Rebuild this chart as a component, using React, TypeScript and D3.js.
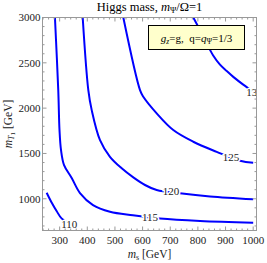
import * as d3 from 'd3';

// chart size
const W = 267;
const H = 263;
const margin = { left: 42.5, right: 10.5, top: 17.5, bottom: 32.5 };

// axes
const MS_DOMAIN = [238, 1012];
const MT_DOMAIN = [650, 3000];
const MS_TICKS = [300, 400, 500, 600, 700, 800, 900, 1000];
const MT_TICKS = [1000, 1500, 2000, 2500, 3000];
const MS_MINOR = d3.range(240, 1001, 20).filter(v => v % 100 !== 0);
const MT_MINOR = d3.range(700, 3001, 100).filter(v => v % 500 !== 0);

// contour lines (m_s, m_T1)
const MS_110 = [253, 272, 289, 307, 345];
const MT_110 = [1067, 953, 865, 784, 710];

const MS_115 = [283, 295, 299.5, 305, 316, 343.6, 373.6, 420.7, 482, 565, 663, 808, 1000];
const MT_115 = [3000, 2199, 1758, 1537, 1372, 1229, 1063, 931, 857, 818, 783, 756, 736];

const MS_120 = [383.4, 403.7, 416, 446, 482, 524.5, 566.4, 608.7, 651, 735, 844, 1000];
const MT_120 = [3000, 2199, 1978, 1647, 1463, 1336, 1236, 1152, 1096, 1060, 1025, 994];

const MS_125 = [530.3, 590.7, 602.6, 651, 711, 783.4, 868, 952.4, 1000];
const MT_125 = [3000, 2199, 2125, 1942, 1758, 1629, 1518, 1419, 1397];

const MS_130 = [783.4, 807.7, 832, 854.7, 880, 904, 928, 964, 1000];
const MT_130 = [3000, 2860, 2713, 2584, 2480, 2410, 2345, 2260, 2185];

// contour labels
const LEVELS = [110, 115, 120, 125, 130];
const LABEL_MS = [335, 627, 703, 920, 1005];
const LABEL_MT = [720, 797, 1080, 1455, 2180];

const contours = [
	{ ms: MS_110, mt: MT_110 },
	{ ms: MS_115, mt: MT_115 },
	{ ms: MS_120, mt: MT_120 },
	{ ms: MS_125, mt: MT_125 },
	{ ms: MS_130, mt: MT_130 },
];

const serif = "'Liberation Serif', 'DejaVu Serif', serif";

export default function App() {
	const x = d3.scaleLinear().domain(MS_DOMAIN).range([margin.left, W - margin.right]);
	const y = d3.scaleLinear().domain(MT_DOMAIN).range([H - margin.bottom, margin.top]);

	const x0 = margin.left, x1 = W - margin.right;
	const y0 = margin.top, y1 = H - margin.bottom;

	const line = d3.line<[number, number]>()
		.x(d => x(d[0]))
		.y(d => y(d[1]))
		.curve(d3.curveCatmullRom.alpha(0.5));

	const tickColor = "#999";

	return (
		<svg width={W} height={H} style={{ position: "absolute", left: 0, top: 0, background: "#fff" }}
			fontFamily={serif}>
			<defs>
				<clipPath id="plot-clip">
					<rect x={x0} y={y0} width={x1 - x0} height={y1 - y0} />
				</clipPath>
			</defs>

			{/* title */}
			<text x={(x0 + x1) / 2} y={10.5} textAnchor="middle" fontSize={12.5} fill="#000">
				Higgs mass, <tspan fontStyle="italic">m</tspan>
				<tspan fontSize={8.5} dy={2}>Ψ</tspan>
				<tspan dy={-2}>/Ω=1</tspan>
			</text>

			{/* contours */}
			<g clipPath="url(#plot-clip)">
				{contours.map((c, i) => (
					<path key={i}
						d={line(c.ms.map((v, j) => [v, c.mt[j]] as [number, number])) || ""}
						fill="none" stroke="#0000ff" strokeWidth={2} />
				))}
				{LEVELS.map((lv, i) => (
					<text key={lv} x={x(LABEL_MS[i])} y={y(LABEL_MT[i])} dy="0.35em"
						textAnchor="middle" fontSize={11} fill="#222"
						stroke="#fff" strokeWidth={3} paintOrder="stroke">
						{lv}
					</text>
				))}
			</g>

			{/* frame */}
			<rect x={x0} y={y0} width={x1 - x0} height={y1 - y0} fill="none" stroke={tickColor} strokeWidth={1} />

			{/* x ticks */}
			{MS_TICKS.map(t => (
				<g key={"xt" + t}>
					<line x1={x(t)} x2={x(t)} y1={y1} y2={y1 - 4} stroke={tickColor} />
					<line x1={x(t)} x2={x(t)} y1={y0} y2={y0 + 4} stroke={tickColor} />
					<text x={x(t)} y={y1 + 13} textAnchor="middle" fontSize={11} fill="#222">{t}</text>
				</g>
			))}
			{MS_MINOR.map(t => (
				<g key={"xm" + t}>
					<line x1={x(t)} x2={x(t)} y1={y1} y2={y1 - 2} stroke={tickColor} />
					<line x1={x(t)} x2={x(t)} y1={y0} y2={y0 + 2} stroke={tickColor} />
				</g>
			))}

			{/* y ticks */}
			{MT_TICKS.map(t => (
				<g key={"yt" + t}>
					<line x1={x0} x2={x0 + 4} y1={y(t)} y2={y(t)} stroke={tickColor} />
					<line x1={x1} x2={x1 - 4} y1={y(t)} y2={y(t)} stroke={tickColor} />
					<text x={x0 - 2} y={y(t)} dy="0.35em" textAnchor="end" fontSize={11} fill="#222">{t}</text>
				</g>
			))}
			{MT_MINOR.map(t => (
				<g key={"ym" + t}>
					<line x1={x0} x2={x0 + 2} y1={y(t)} y2={y(t)} stroke={tickColor} />
					<line x1={x1} x2={x1 - 2} y1={y(t)} y2={y(t)} stroke={tickColor} />
				</g>
			))}

			{/* axis labels */}
			<text x={(x0 + x1) / 2} y={258} textAnchor="middle" fontSize={11.5} fill="#222">
				<tspan fontStyle="italic">m</tspan>
				<tspan fontSize={8} dy={2}>s</tspan>
				<tspan dy={-2}> [GeV]</tspan>
			</text>
			<text transform={`translate(12,${(y0 + y1) / 2}) rotate(-90)`} textAnchor="middle" fontSize={11.5} fill="#222">
				<tspan fontStyle="italic">m</tspan>
				<tspan fontSize={8} dy={2} fontStyle="italic">T</tspan>
				<tspan fontSize={7} dy={1}>1</tspan>
				<tspan dy={-3}> [GeV]</tspan>
			</text>

			{/* legend */}
			<rect x={148.5} y={25.5} width={96} height={24} fill="#ffffcc" stroke="#000" strokeWidth={1} />
			<text x={196.5} y={41.5} textAnchor="middle" fontSize={11} fill="#000">
				<tspan fontStyle="italic">g</tspan>
				<tspan fontSize={7.5} dy={2} fontStyle="italic">z</tspan>
				<tspan dy={-2}>{"=g,\u00a0\u00a0q="}</tspan>
				<tspan fontStyle="italic">q</tspan>
				<tspan fontSize={7.5} dy={2}>Ψ</tspan>
				<tspan dy={-2}>=1/3</tspan>
			</text>
		</svg>
	);
}
